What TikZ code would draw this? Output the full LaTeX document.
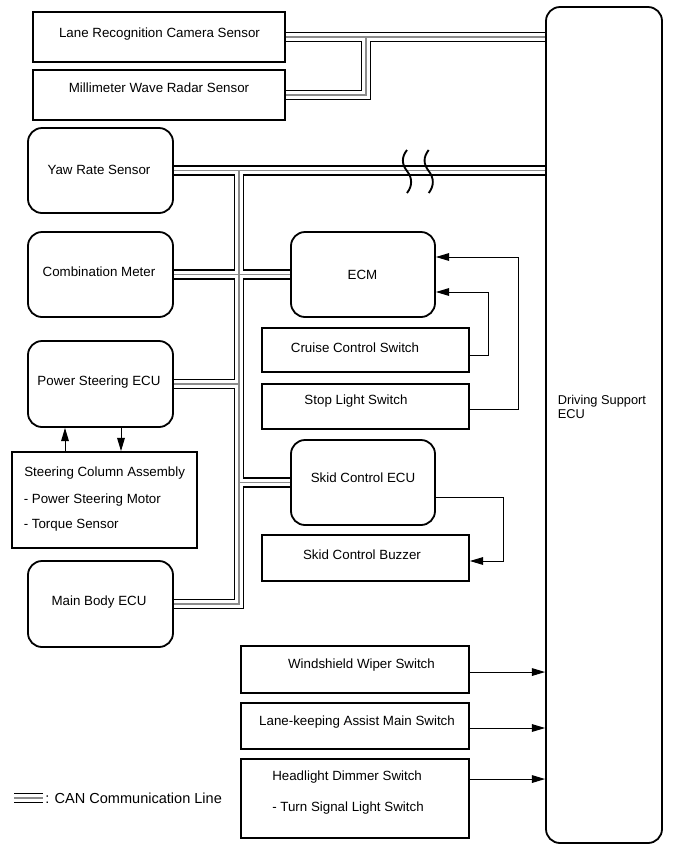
\documentclass[tikz,border=0pt]{standalone}
\usepackage{fontspec}
\setmainfont{Liberation Sans}
\usetikzlibrary{arrows.meta}
\pgfdeclarelayer{bg}
\pgfsetlayers{bg,main}
\tikzset{
 rbox/.style={draw, line width=1.35pt, rounded corners=10.5pt, fill=white, inner sep=0pt},
 sbox/.style={draw, line width=1.35pt, fill=white, inner sep=0pt},
 txt/.style={font=\fontsize{10}{12}\selectfont, inner sep=0pt, text height=7.2pt, text depth=0pt},
 txtl/.style={txt, anchor=west},
 legtxt/.style={font=\fontsize{10.9}{13}\selectfont, inner sep=0pt, text height=7.8pt, text depth=0pt, anchor=west},
 ecutxt/.style={font=\fontsize{9.6}{11}\selectfont, inner sep=0pt, text height=6.9pt, text depth=0pt, anchor=west},
 arr/.style={line width=0.75pt, -{Triangle[length=10pt,width=5.8pt]}},
 brk/.style={line width=1.4pt},
 canA/.style={line width=7.7pt, black},
 canB/.style={line width=5.8pt, white},
 canC/.style={line width=0.8pt, black!45},
}
\newcommand\mybox[6]{%
 \pgfmathsetmacro\cx{(#3+#5)/2}\pgfmathsetmacro\cy{(#4+#6)/2}%
 \pgfmathsetmacro\bw{(#5-#3)*0.75}\pgfmathsetmacro\bh{(#6-#4)*0.75}%
 \node[#1, minimum width=\bw pt, minimum height=\bh pt] (#2) at (\cx,\cy) {};}
\newcommand\canlines[1]{%
 \draw[#1] (lane.east) -- (lane.east -| ecu.west);
 \draw[#1] (mill.east) -| (jm);
 \draw[#1] (yaw.east) -- (yaw.east -| ecu.west);
 \draw[#1] (bt) |- (main.east);
 \draw[#1] (comb.east) -- (ecm.west);
 \draw[#1] (ps.east) -- (ps.east -| bt);
 \draw[#1] (skid.west) -- (skid.west -| bt);
 \draw[#1] (leg1) -- (leg2);
}
\begin{document}
\begin{tikzpicture}[x=0.75pt,y=-0.75pt]
\useasboundingbox (0,0) rectangle (691,854);
% boxes
\mybox{sbox}{lane}{33}{12}{285}{62}
\mybox{sbox}{mill}{33}{70}{285}{120}
\mybox{rbox}{ecu}{546}{7}{662}{843}
\mybox{rbox}{yaw}{28}{128}{173}{213}
\mybox{rbox}{comb}{28}{232}{173}{317}
\mybox{rbox}{ps}{28}{341}{173}{427}
\mybox{sbox}{col}{12}{452}{197}{548}
\mybox{rbox}{main}{28}{561}{173}{647}
\mybox{rbox}{ecm}{291}{232}{435}{317}
\mybox{sbox}{cruise}{262}{328}{469}{372}
\mybox{sbox}{stop}{262}{384}{469}{429}
\mybox{rbox}{skid}{291}{440}{435}{525}
\mybox{sbox}{buzzer}{262}{535}{469}{581}
\mybox{sbox}{wiper}{241}{646}{469}{693}
\mybox{sbox}{lka}{241}{703}{469}{749}
\mybox{sbox}{head}{241}{759}{469}{838}
% texts
\node[txt] (tlane) at (159.5,33) {Lane Recognition Camera Sensor};
\node[txt] (tmill) at (159,88) {Millimeter Wave Radar Sensor};
\node[txt] (tyaw) at (99,170) {Yaw Rate Sensor};
\node[txt] (tcomb) at (99,272) {Combination Meter};
\node[txt] (tecm) at (362.5,275) {ECM};
\node[txt] (tps) at (99,381) {Power Steering ECU};
\node[txt] (tcruise) at (355,348) {Cruise Control Switch};
\node[txt] (tstop) at (356,400) {Stop Light Switch};
\node[txt] (tskid) at (363,478) {Skid Control ECU};
\node[txtl] (tcol1) at (24,472) {Steering Column Assembly};
\node[txtl] (tcol2) at (23.5,499) {- Power Steering Motor};
\node[txtl] (tcol3) at (23.5,524) {- Torque Sensor};
\node[txt] (tbuzz) at (362,555) {Skid Control Buzzer};
\node[txt] (tmain) at (99,601) {Main Body ECU};
\node[txt] (twiper) at (361.5,664) {Windshield Wiper Switch};
\node[txt] (tlka) at (357,721) {Lane-keeping Assist Main Switch};
\node[txtl] (thead1) at (272,776) {Headlight Dimmer Switch};
\node[txtl] (thead2) at (272,807) {- Turn Signal Light Switch};
\node[ecutxt] (tecu1) at (557.5,400) {Driving Support};
\node[ecutxt] (tecu2) at (557.5,414) {ECU};
\node[legtxt] (tleg) at (45,798) {: CAN Communication Line};
% CAN bus
\coordinate (jm) at (366,37);
\coordinate (bt) at (239,170.5);
\coordinate (leg1) at (14,798);
\coordinate (leg2) at (43,798);
\begin{pgfonlayer}{bg}
\canlines{canA}
\canlines{canB}
\canlines{canC}
\end{pgfonlayer}
% break marks
\draw[brk] (407,150) .. controls (401.5,157) and (401.5,164) .. (407,171) .. controls (412.5,178) and (412.5,186) .. (407,193);
\draw[brk] (428.7,150) .. controls (423.2,157) and (423.2,164) .. (428.7,171) .. controls (434.2,178) and (434.2,186) .. (428.7,193);
% signal arrows
\coordinate (aU) at (65,0);
\coordinate (aD) at (121,0);
\draw[arr] (col.north -| aU) -- (ps.south -| aU);
\draw[arr] (ps.south -| aD) -- (col.north -| aD);
\coordinate (c1) at (518,257);
\coordinate (c2) at (488,292);
\coordinate (c3) at (503,561);
\draw[arr] ([yshift=-2.6pt]stop.east) -| (c1) -- (c1 -| ecm.east);
\draw[arr] ([yshift=-3.75pt]cruise.east) -| (c2) -- (c2 -| ecm.east);
\draw[arr] ([yshift=-10.9pt]skid.east) -| (c3) -- (c3 -| buzzer.east);
\draw[arr] ([yshift=-1.9pt]wiper.east) -- ([yshift=-1.9pt]wiper.east -| ecu.west);
\draw[arr] ([yshift=-1.5pt]lka.east) -- ([yshift=-1.5pt]lka.east -| ecu.west);
\draw[arr] ([yshift=14.6pt]head.east) -- ([yshift=14.6pt]head.east -| ecu.west);
\end{tikzpicture}
\end{document}
